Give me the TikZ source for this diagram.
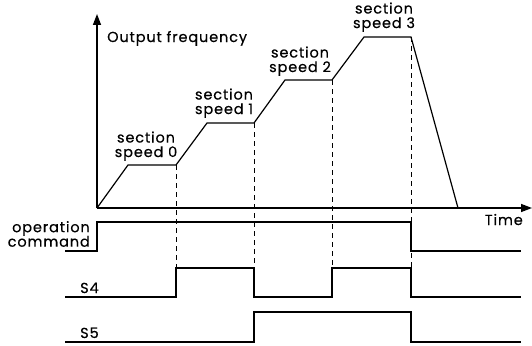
\documentclass[tikz,border=0pt]{standalone}
\usepackage{fontspec}
\setmainfont{Poppins}[LetterSpace=6,FakeBold=0.4]
\usetikzlibrary{arrows.meta}

\begin{document}
\begin{tikzpicture}[x=1pt,y=-1pt,
  >={Triangle[length=11pt,width=8pt]},
  lbl/.style={font=\fontsize{14.5}{14.5}\selectfont,inner sep=0pt,align=center},
  axis/.style={line width=1.4pt},
  sig/.style={line width=1.2pt},
  guide/.style={line width=1pt,dash pattern=on 5pt off 4pt}
]
\useasboundingbox (0,0) rectangle (532,345);
% axes
\coordinate (o) at (97,208);
\coordinate (ytop) at (97,14);
\coordinate (xend) at (532,208);
\draw[axis,->] (o) -- (ytop);
\draw[axis,->] (o) -- (xend);
\node[lbl,anchor=base west] (yl) at (107,42) {Output frequency};
\node[lbl,anchor=base east] (xl) at (523,225) {Time};
% frequency curve
\coordinate (a0) at (128,165); \coordinate (b0) at (176,165);
\coordinate (a1) at (207,123); \coordinate (b1) at (254,123);
\coordinate (a2) at (285,80);  \coordinate (b2) at (332,80);
\coordinate (a3) at (364,37);  \coordinate (b3) at (411,37);
\coordinate (e) at (458,208);
\draw[sig] (o) -- (a0) -- (b0) -- (a1) -- (b1) -- (a2) -- (b2) -- (a3) -- (b3) -- (e);
\node[lbl,anchor=south] (s0) at (146,161) {section\\speed 0};
\node[lbl,anchor=south] (s1) at (224,118) {section\\speed 1};
\node[lbl,anchor=south] (s2) at (300,76) {section\\speed 2};
\node[lbl,anchor=south] (s3) at (384,32) {section\\speed 3};
% guide lines
\draw[guide] (b0) -- (176,268);
\draw[guide] (b1) -- (254,268);
\draw[guide] (b2) -- (332,268);
\draw[guide] (b3) -- (411,268);
% signals
\node[lbl,anchor=south east,align=right] (op) at (90,247) {operation\\command};
\draw[sig] (65,251) -- (97,251) -- (97,222) -- (411,222) -- (411,251) -- (521,251);
\node[lbl,anchor=base west] (s4) at (80,293) {S4};
\draw[sig] (65,297) -- (176,297) -- (176,268) -- (254,268) -- (254,297)
  -- (332,297) -- (332,268) -- (411,268) -- (411,297) -- (521,297);
\node[lbl,anchor=base west] (s5) at (80,338) {S5};
\draw[sig] (65,342) -- (254,342) -- (254,312) -- (411,312) -- (411,342) -- (521,342);
\end{tikzpicture}
\end{document}
